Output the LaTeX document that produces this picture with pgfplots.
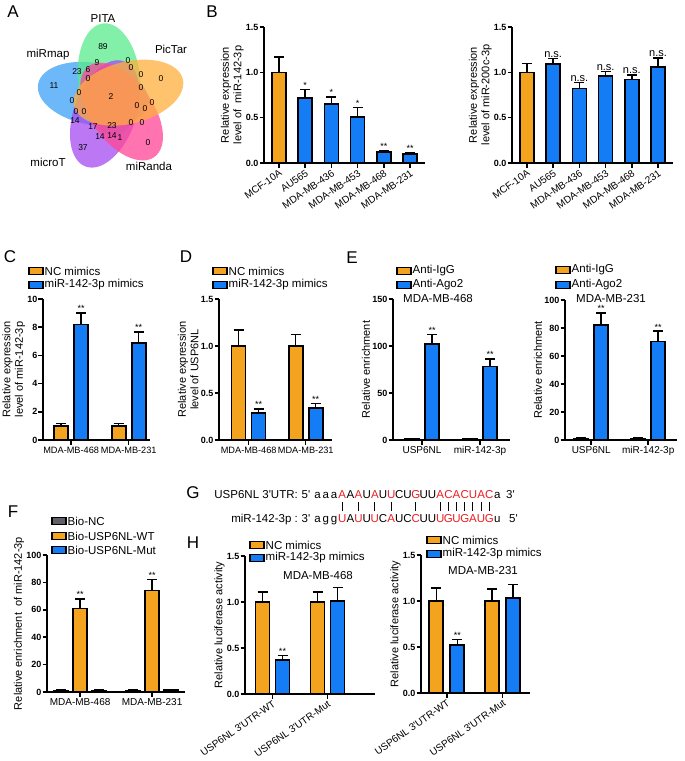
\documentclass[border=0pt]{standalone}
\usepackage{fontspec}
\setmainfont{Liberation Sans}
\usepackage{pgfplots}
\pgfplotsset{compat=1.18}
\definecolor{gorange}{RGB}{243,163,30}
\definecolor{gblue}{RGB}{20,125,245}
\definecolor{ggray}{RGB}{95,95,105}
\definecolor{vgreen}{RGB}{90,235,140}
\definecolor{vblue}{RGB}{60,160,245}
\definecolor{vorange}{RGB}{255,175,60}
\definecolor{vpink}{RGB}{255,70,150}
\definecolor{vpurple}{RGB}{165,75,240}
\definecolor{seqred}{RGB}{235,30,35}
\newcommand\tickfont{\fontsize{9}{10}\selectfont\bfseries}
\newcommand\labfont{\fontsize{11}{12.5}\selectfont}
\newcommand\xlabfont{\fontsize{10}{11}\selectfont}
\newcommand\xsfont{\fontsize{9.2}{10}\selectfont}
\newcommand\legfont{\fontsize{11.5}{13}\selectfont}
\newcommand\starfont{\fontsize{9}{9}\selectfont}
\newcommand\letfont{\fontsize{17}{17}\selectfont}
\newcommand\vfont{\fontsize{8.5}{9}\selectfont}
\newcommand\vlfont{\fontsize{11.5}{13}\selectfont}
\newcommand\gfont{\fontsize{11.5}{13}\selectfont}
\newcommand\q{\textquotesingle}
\newcommand\leg[4]{%
  \draw[fill=#3, line width=1.4pt] (#1,#2-3.5) rectangle ++(14,7);
  \node[anchor=west, inner sep=0pt, font=\legfont] at (#1+15.5,#2) {#4};}
\newcommand\sqb[1]{\makebox[8.17pt]{#1}}
\newcommand\sqr[1]{\makebox[8.17pt]{\textcolor{seqred}{#1}}}
\pgfplotsset{
 gp/.style={scale only axis, axis lines=left, axis line style={-, line width=1.5pt},
  ymin=0, enlargelimits=false, clip=false, ybar, bar width=14pt,
  tick align=outside, major tick length=4.5pt, tick style={line width=1.5pt, black},
  /pgf/number format/assume math mode=true,
  yticklabel style={font=\tickfont, inner sep=1pt},
  xticklabel style={font=\xlabfont, inner sep=2pt},
  ylabel style={font=\labfont, align=center, inner sep=1pt},
  anchor=south west},
 dec1/.style={yticklabel style={/pgf/number format/fixed, /pgf/number format/fixed zerofill, /pgf/number format/precision=1}},
 rotlab/.style={xticklabel style={rotate=35, anchor=north east, inner sep=1pt}},
 bs/.style={draw=black, line width=1.6pt, fill=#1,
   error bars/y dir=plus, error bars/y explicit,
   error bars/error bar style={line width=1.5pt, black, solid},
   error bars/error mark options={rotate=90, line width=1.5pt, black, mark size=5pt}},
 st/.style={draw=none, fill=none, forget plot, point meta=explicit symbolic,
   nodes near coords={\pgfplotspointmeta},
   nodes near coords style={font=\starfont, inner sep=1pt, anchor=south, text=black}},
}
\begin{document}
\begin{tikzpicture}
% ---------------- A: Venn ----------------
\begin{scope}[shift={(111pt,-97pt)}]
\foreach \ang/\cl in {170/vblue,96/vgreen,250/vpurple,306/vpink,14/vorange}
  \fill[\cl, fill opacity=0.75, rotate=\ang] (18pt,0) ellipse (56pt and 31pt);
\end{scope}
\begin{scope}[x=1pt,y=-1pt]
\foreach \px/\py/\t in {103/47/89,97/63/9,128/61/0,77/72/23,88/70/6,131/68/0,88/79/0,141/75/0,161/79/0,54/86/11,79/93/0,141/88/0,111/97/2,72/101/0,137/106/0,145/109/0,152/103/0,76/112/0,84/112/0,75/121/14,93/127/17,112/126/23,131/123/0,142/123/0,100/137/14,112/136/14,120/138/1,148/143/0,83/148/37}
  \node[font=\vfont, inner sep=0pt] at (\px,\py) {\t};
\node[font=\vlfont] at (48,55) {miRmap};
\node[font=\vlfont] at (103,19) {PITA};
\node[font=\vlfont] at (171,49) {PicTar};
\node[font=\vlfont] at (48,162) {microT};
\node[font=\vlfont] at (149,166) {miRanda};
\end{scope}

% ---------------- B left ----------------
\begin{axis}[gp, dec1, rotlab, at={(264pt,-163pt)}, width=161pt, height=136pt,
 xmin=-0.57, xmax=5.57, ymax=1.5, ytick={0,0.5,1,1.5},
 xtick={0,1,2,3,4,5}, xticklabels={MCF-10A,AU565,MDA-MB-436,MDA-MB-453,MDA-MB-468,MDA-MB-231},
 ylabel={Relative expression\\level of\ \ miR-142-3p}]
\addplot[bs=gorange, bar shift=0pt] coordinates {(0,1.00) +- (0,0.17)};
\addplot[bs=gblue, bar shift=0pt] coordinates {(1,0.72) +- (0,0.09) (2,0.65) +- (0,0.08) (3,0.51) +- (0,0.10) (4,0.12) +- (0,0.02) (5,0.10) +- (0,0.015)};
\addplot[st, bar shift=0pt] coordinates {(1,0.81) [*] (2,0.73) [*] (3,0.61) [*] (4,0.14) [**] (5,0.115) [**]};
\end{axis}
% ---------------- B right ----------------
\begin{axis}[gp, dec1, rotlab, at={(512pt,-163pt)}, width=161pt, height=136pt,
 xmin=-0.57, xmax=5.57, ymax=1.5, ytick={0,0.5,1,1.5},
 xtick={0,1,2,3,4,5}, xticklabels={MCF-10A,AU565,MDA-MB-436,MDA-MB-453,MDA-MB-468,MDA-MB-231},
 ylabel={Relative expression\\level of miR-200c-3p}]
\addplot[bs=gorange, bar shift=0pt] coordinates {(0,1.00) +- (0,0.10)};
\addplot[bs=gblue, bar shift=0pt] coordinates {(1,1.09) +- (0,0.06) (2,0.82) +- (0,0.07) (3,0.96) +- (0,0.05) (4,0.92) +- (0,0.05) (5,1.06) +- (0,0.10)};
\addplot[st, bar shift=0pt, nodes near coords style={font=\labfont}] coordinates {(1,1.15) [n.s.] (2,0.89) [n.s.] (3,1.01) [n.s.] (4,0.97) [n.s.] (5,1.16) [n.s.]};
\end{axis}

% ---------------- C ----------------
\begin{axis}[gp, at={(43pt,-440pt)}, width=107pt, height=141pt,
 xmin=-0.49, xmax=1.37, ymax=10, ytick={0,2,4,6,8,10},
 xtick={0,1}, xticklabels={MDA-MB-468,MDA-MB-231}, xticklabel style={font=\xsfont},
 ylabel={Relative expression\\level of miR-142-3p}]
\addplot[bs=gorange, bar shift=-10pt] coordinates {(0,1) +- (0,0.18) (1,1) +- (0,0.18)};
\addplot[bs=gblue, bar shift=10pt] coordinates {(0,8.2) +- (0,0.8) (1,6.9) +- (0,0.75)};
\addplot[st, bar shift=10pt] coordinates {(0,9.0) [**] (1,7.65) [**]};
\end{axis}
% ---------------- D ----------------
\begin{axis}[gp, dec1, at={(219pt,-440pt)}, width=113pt, height=141pt,
 xmin=-0.52, xmax=1.46, ymax=1.5, ytick={0,0.5,1,1.5},
 xtick={0,1}, xticklabels={MDA-MB-468,MDA-MB-231}, xticklabel style={font=\xsfont},
 ylabel={Relative expression\\level of USP6NL}]
\addplot[bs=gorange, bar shift=-10pt] coordinates {(0,1) +- (0,0.17) (1,1) +- (0,0.12)};
\addplot[bs=gblue, bar shift=10pt] coordinates {(0,0.29) +- (0,0.04) (1,0.34) +- (0,0.05)};
\addplot[st, bar shift=10pt] coordinates {(0,0.33) [**] (1,0.39) [**]};
\end{axis}
% ---------------- E left ----------------
\begin{axis}[gp, at={(393pt,-440pt)}, width=117.2pt, height=141pt,
 xmin=-0.5, xmax=1.52, ymax=150, ytick={0,50,100,150},
 xtick={0,1}, xticklabels={USP6NL,miR-142-3p},
 ylabel={Relative enrichment}]
\addplot[bs=gorange, bar shift=-10pt] coordinates {(0,1) +- (0,0.5) (1,1) +- (0,0.5)};
\addplot[bs=gblue, bar shift=10pt] coordinates {(0,102) +- (0,10) (1,78) +- (0,8)};
\addplot[st, bar shift=10pt] coordinates {(0,112) [**] (1,86) [**]};
\end{axis}
% ---------------- E right ----------------
\begin{axis}[gp, at={(565pt,-440pt)}, width=111.7pt, height=140pt,
 xmin=-0.46, xmax=1.5, ymax=100, ytick={0,20,40,60,80,100},
 xtick={0,1}, xticklabels={USP6NL,miR-142-3p},
 ylabel={Relative enrichment}]
\addplot[bs=gorange, bar shift=-10pt] coordinates {(0,1) +- (0,0.5) (1,1) +- (0,0.5)};
\addplot[bs=gblue, bar shift=10pt] coordinates {(0,82) +- (0,8.6) (1,70.5) +- (0,7.2)};
\addplot[st, bar shift=10pt] coordinates {(0,90.6) [**] (1,77.7) [**]};
\end{axis}
% ---------------- F ----------------
\begin{axis}[gp, at={(47pt,-692pt)}, width=138.2pt, height=137pt,
 xmin=-0.46, xmax=1.46, ymax=100, ytick={0,20,40,60,80,100},
 xtick={0,1}, xticklabels={MDA-MB-468,MDA-MB-231},
 ylabel={Relative enrichment\ \ of miR-142-3p}]
\addplot[bs=ggray, bar shift=-19pt] coordinates {(0,1) +- (0,0.5) (1,1) +- (0,0.5)};
\addplot[bs=gorange, bar shift=0pt] coordinates {(0,61) +- (0,7) (1,74) +- (0,8)};
\addplot[bs=gblue, bar shift=19pt] coordinates {(0,1) +- (0,0.5) (1,1.5) +- (0,0.5)};
\addplot[st, bar shift=0pt] coordinates {(0,68) [**] (1,82) [**]};
\end{axis}
% ---------------- H left ----------------
\begin{axis}[gp, dec1, rotlab, at={(245pt,-694pt)}, width=129.8pt, height=138pt,
 xmin=-0.5, xmax=1.86, ymax=1.5, ytick={0,0.5,1,1.5},
 xtick={0,1}, xticklabels={USP6NL 3\q UTR-WT,USP6NL 3\q UTR-Mut},
 ylabel={Relative luciferase activity}]
\addplot[bs=gorange, bar shift=-10pt] coordinates {(0,1) +- (0,0.11) (1,1) +- (0,0.11)};
\addplot[bs=gblue, bar shift=10pt] coordinates {(0,0.37) +- (0,0.05) (1,1.01) +- (0,0.15)};
\addplot[st, bar shift=10pt] coordinates {(0,0.42) [**]};
\end{axis}
% ---------------- H right ----------------
\begin{axis}[gp, dec1, rotlab, at={(421pt,-693pt)}, width=108.6pt, height=138pt,
 xmin=-0.46, xmax=1.48, ymax=1.5, ytick={0,0.5,1,1.5},
 xtick={0,1}, xticklabels={USP6NL 3\q UTR-WT,USP6NL 3\q UTR-Mut},
 ylabel={Relative luciferase activity}]
\addplot[bs=gorange, bar shift=-10.5pt] coordinates {(0,1) +- (0,0.14) (1,1) +- (0,0.13)};
\addplot[bs=gblue, bar shift=10.5pt] coordinates {(0,0.52) +- (0,0.06) (1,1.03) +- (0,0.15)};
\addplot[st, bar shift=10.5pt] coordinates {(0,0.58) [**]};
\end{axis}

% ---------------- manual text, legends, G ----------------
\begin{scope}[x=1pt,y=-1pt]
\node[font=\letfont] at (13,12) {A};
\node[font=\letfont] at (212,12) {B};
\node[font=\letfont] at (10,257) {C};
\node[font=\letfont] at (186,257) {D};
\node[font=\letfont] at (352,258) {E};
\node[font=\letfont] at (13,512) {F};
\node[font=\letfont] at (193,493) {G};
\node[font=\letfont] at (193,543) {H};
\leg{29}{271}{gorange}{NC mimics}
\leg{29}{285}{gblue}{miR-142-3p mimics}
\leg{213}{271}{gorange}{NC mimics}
\leg{213}{285}{gblue}{miR-142-3p mimics}
\leg{397}{271}{gorange}{Anti-IgG}
\leg{397}{285}{gblue}{Anti-Ago2}
\node[font=\legfont] at (438,299) {MDA-MB-468};
\leg{556}{270}{gorange}{Anti-IgG}
\leg{556}{285}{gblue}{Anti-Ago2}
\node[font=\legfont] at (611,299) {MDA-MB-231};
\leg{52}{521}{ggray}{Bio-NC}
\leg{52}{536}{gorange}{Bio-USP6NL-WT}
\leg{52}{550}{gblue}{Bio-USP6NL-Mut}
\leg{250}{545}{gorange}{NC mimics}
\leg{250}{558}{gblue}{miR-142-3p mimics}
\node[font=\legfont] at (318,576) {MDA-MB-468};
\leg{427}{540}{gorange}{NC mimics}
\leg{427}{554}{gblue}{miR-142-3p mimics}
\node[font=\legfont] at (483,571) {MDA-MB-231};
% G
\node[anchor=base east, font=\gfont, inner sep=0pt] at (298,498) {USP6NL 3\q UTR:};
\node[anchor=base west, font=\gfont, inner sep=0pt] at (301.5,498) {5\q};
\node[anchor=base west, font=\gfont, inner sep=0pt] at (313.4,498) {\sqb{a}\sqb{a}\sqb{a}\sqr{A}\sqb{A}\sqr{A}\sqb{U}\sqr{A}\sqb{U}\sqr{U}\sqb{C}\sqb{U}\sqr{G}\sqb{U}\sqb{U}\sqr{A}\sqr{C}\sqr{A}\sqr{C}\sqr{U}\sqr{A}\sqr{C}\sqb{a}};
\node[anchor=base west, font=\gfont, inner sep=0pt] at (506,498) {3\q};
\node[anchor=base east, font=\gfont, inner sep=0pt] at (298,522) {miR-142-3p :};
\node[anchor=base west, font=\gfont, inner sep=0pt] at (301.5,522) {3\q};
\node[anchor=base west, font=\gfont, inner sep=0pt] at (313.4,522) {\sqb{a}\sqb{g}\sqb{g}\sqr{U}\sqb{A}\sqr{U}\sqb{U}\sqr{U}\sqb{C}\sqr{A}\sqb{U}\sqb{C}\sqr{C}\sqb{U}\sqb{U}\sqr{U}\sqr{G}\sqr{U}\sqr{G}\sqr{A}\sqr{U}\sqr{G}\sqb{u}};
\node[anchor=base west, font=\gfont, inner sep=0pt] at (509,522) {5\q};
\foreach \i in {3,5,7,9,12,15,16,17,18,19,20,21}
  \draw[line width=0.8pt] (317.5+\i*8.17,502) -- ++(0,9);
\end{scope}
\pgfresetboundingbox
\useasboundingbox (0,0) rectangle (685pt,-761pt);
\end{tikzpicture}
\end{document}
